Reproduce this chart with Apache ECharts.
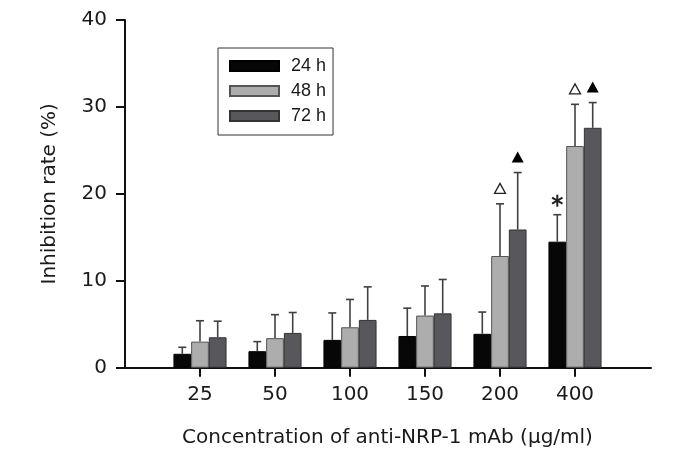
<!DOCTYPE html>
<html>
<head>
<meta charset="utf-8">
<script src="https://cdn.jsdelivr.net/npm/echarts@6/dist/echarts.min.js"></script>
<style>html,body{margin:0;padding:0;background:#fff;}#c{width:688px;height:464px;}</style>
</head>
<body>
<div id="c"></div>
<script>
var categories = ['25', '50', '100', '150', '200', '400'];
var seriesNames = ['24 h', '48 h', '72 h'];
var mean24 = [1.6, 1.9, 3.2, 3.65, 3.9, 14.5];
var err24 = [0.75, 1.1, 3.1, 3.2, 2.5, 3.1];
var mean48 = [3.0, 3.4, 4.65, 6.0, 12.85, 25.5];
var err48 = [2.4, 2.7, 3.2, 3.4, 6.0, 4.8];
var mean72 = [3.5, 4.0, 5.5, 6.25, 15.9, 27.6];
var err72 = [1.85, 2.35, 3.8, 3.9, 6.55, 2.9];
var mark24 = ['', '', '', '', '', '*'];
var mark48 = ['', '', '', '', '△', '△'];
var mark72 = ['', '', '', '', '▲', '▲'];
var yTicks = [0, 10, 20, 30, 40];

var FONT = 'DejaVu Sans, Liberation Sans, Arial, sans-serif';
var LFONT = 'Liberation Sans, Arial, sans-serif';
var BARW = 17.7;
var means = [mean24, mean48, mean72];
var errs = [err24, err48, err72];
var marks = [mark24, mark48, mark72];
var colors = ['#070707', '#adadad', '#58585c'];
var borders = ['#000000', '#555555', '#333333'];

function errSeries(k) {
  var data = categories.map(function (c, i) {
    return [i, means[k][i], errs[k][i], marks[k][i]];
  });
  return {
    type: 'custom',
    xAxisIndex: 0, yAxisIndex: 0,
    silent: true, clip: false, z: 5,
    data: data,
    encode: { x: 0, y: 1 },
    renderItem: function (params, api) {
      var idx = api.value(0);
      var m = api.value(1);
      var e = api.value(2);
      var mk = data[params.dataIndex][3];
      var base = api.coord([idx, m]);
      var x = base[0] + (k - 1) * BARW;
      var y0 = base[1];
      var y1 = api.coord([idx, m + e])[1];
      var st = { stroke: '#404040', lineWidth: 1.6 };
      var children = [
        { type: 'line', shape: { x1: x, y1: y0, x2: x, y2: y1 }, style: st },
        { type: 'line', shape: { x1: x - 4, y1: y1, x2: x + 4, y2: y1 }, style: st }
      ];
      var cy = y1 - 15;
      if (mk === '▲') {
        children.push({ type: 'polygon', shape: { points: [[x, cy - 6], [x - 6, cy + 5], [x + 6, cy + 5]] }, style: { fill: '#000' } });
      } else if (mk === '△') {
        children.push({ type: 'polygon', shape: { points: [[x, cy - 5.5], [x - 5.5, cy + 4.5], [x + 5.5, cy + 4.5]] }, style: { fill: '#fff', stroke: '#222', lineWidth: 1.3 } });
      } else if (mk === '*') {
        var r = 6, a;
        for (var j = 0; j < 3; j++) {
          a = Math.PI / 2 + j * Math.PI / 3;
          children.push({ type: 'line', shape: { x1: x - r * Math.cos(a), y1: cy + 1 - r * Math.sin(a), x2: x + r * Math.cos(a), y2: cy + 1 + r * Math.sin(a) }, style: { stroke: '#222', lineWidth: 2 } });
        }
      }
      return { type: 'group', children: children };
    }
  };
}

var barSeries = seriesNames.map(function (n, k) {
  return {
    name: n, type: 'bar', xAxisIndex: 0, yAxisIndex: 0,
    barWidth: BARW, barGap: '0%',
    data: means[k],
    itemStyle: { color: colors[k], borderColor: borders[k], borderWidth: 1 }
  };
});

var chart = echarts.init(document.getElementById('c'), null, { renderer: 'canvas' });
chart.setOption({
  animation: false,
  backgroundColor: '#fff',
  textStyle: { fontFamily: FONT },
  grid: [
    { left: 162.5, right: 75.5, top: 20, bottom: 96.3 },
    { left: 125, right: 37, top: 20, bottom: 96.3 }
  ],
  legend: {
    orient: 'vertical', left: 218, top: 48,
    data: seriesNames,
    itemWidth: 49, itemHeight: 10, itemGap: 7,
    padding: [9, 7, 10, 11],
    borderColor: '#333', borderWidth: 1,
    icon: 'rect',
    textStyle: { fontSize: 18, color: '#1a1a1a', fontFamily: LFONT, padding: [0, 0, 0, 7], lineHeight: 18 }
  },
  xAxis: [
    {
      type: 'category', gridIndex: 0, data: categories,
      axisLine: { show: false },
      axisTick: { show: true, alignWithLabel: true, length: 9, lineStyle: { color: '#111', width: 2 } },
      axisLabel: { fontSize: 20, color: '#1a1a1a', margin: 17, fontFamily: FONT },
      name: 'Concentration of anti-NRP-1 mAb (μg/ml)',
      nameLocation: 'middle', nameGap: 60,
      nameTextStyle: { fontSize: 20, color: '#1a1a1a', fontFamily: FONT }
    },
    {
      type: 'value', gridIndex: 1, min: 0, max: 1,
      axisLine: { show: true, onZero: false, lineStyle: { color: '#111', width: 2 } },
      axisTick: { show: false }, axisLabel: { show: false }, splitLine: { show: false }
    }
  ],
  yAxis: [
    {
      type: 'value', gridIndex: 0, min: 0, max: 40, interval: 10, offset: 37.5,
      axisLine: { show: true, lineStyle: { color: '#111', width: 2 } },
      axisTick: { show: true, length: 9, lineStyle: { color: '#111', width: 2 } },
      axisLabel: { fontSize: 20, color: '#1a1a1a', margin: 18, fontFamily: FONT },
      splitLine: { show: false },
      name: 'Inhibition rate (%)', nameLocation: 'middle', nameGap: 65, nameRotate: 90,
      nameTextStyle: { fontSize: 20, color: '#1a1a1a', fontFamily: FONT }
    },
    {
      type: 'value', gridIndex: 1, show: false, min: 0, max: 40
    }
  ],
  series: barSeries.concat([errSeries(0), errSeries(1), errSeries(2)])
});
</script>
</body>
</html>
